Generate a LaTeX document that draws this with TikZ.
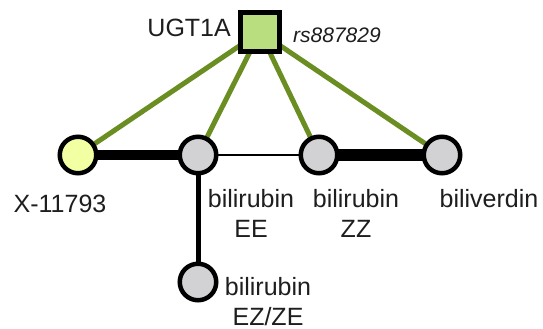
\documentclass[tikz,border=0pt]{standalone}
\usepackage{fontspec}
\setmainfont{Liberation Sans}
\usetikzlibrary{backgrounds}
\definecolor{edgegreen}{RGB}{107,142,35}
\definecolor{genefill}{RGB}{184,222,128}
\definecolor{metyellow}{RGB}{242,255,162}
\definecolor{metgray}{RGB}{210,210,213}
\definecolor{labelgray}{RGB}{30,30,30}
\tikzset{
  gene/.style={draw=black, line width=5pt, fill=genefill, rectangle, minimum size=39pt, inner sep=0pt},
  metab/.style={draw=black, line width=4.5pt, circle, minimum size=36.5pt, inner sep=0pt},
  lbl/.style={text=labelgray, font=\fontsize{25}{30}\selectfont, inner sep=0pt, anchor=base},
  snp/.style={text=labelgray, font=\fontsize{21}{25}\selectfont\itshape, inner sep=0pt, anchor=base west},
  assoc/.style={draw=edgegreen, line width=5pt},
  corr/.style={draw=black}
}
\begin{document}
\begin{tikzpicture}[x=1pt, y=-1pt]
\useasboundingbox (0,0) rectangle (543,329);

% gene and metabolites
\node[gene] (ugt) at (260,32) {};
\node[metab, fill=metyellow] (x11793) at (78,155) {};
\node[metab, fill=metgray] (ee) at (198,155) {};
\node[metab, fill=metgray] (zz) at (319,155) {};
\node[metab, fill=metgray] (bv) at (442,155) {};
\node[metab, fill=metgray] (ez) at (198,282) {};

% labels (a multi-line label sits on the baseline of its last line)
\node[lbl, anchor=base east] (ugtlbl) at (231,37) {UGT1A};
\node[snp] (snplbl) at (293,42) {rs887829};
\node[lbl] (xlbl) at (60,212) {X-11793};
\node[lbl, align=center] (eelbl) at (251,237) {bilirubin\\EE};
\node[lbl, align=center] (zzlbl) at (356,237) {bilirubin\\ZZ};
\node[lbl] (bvlbl) at (489,207) {biliverdin};
\node[lbl, align=center] (ezlbl) at (268,325) {bilirubin\\EZ/ZE};

% connectors, behind the nodes
\begin{pgfonlayer}{background}
\fill[white] (0,0) rectangle (543,329);
\draw[assoc] (ugt.center) -- (x11793.center);
\draw[assoc] (ugt.center) -- (ee.center);
\draw[assoc] (ugt.center) -- (zz.center);
\draw[assoc] (ugt.center) -- (bv.center);
\draw[corr, line width=10pt] (x11793.center) -- (ee.center);
\draw[corr, line width=2pt] (ee.center) -- (zz.center);
\draw[corr, line width=12pt] (zz.center) -- (bv.center);
\draw[corr, line width=5pt] (ee.center) -- (ez.center);
\end{pgfonlayer}
\end{tikzpicture}
\end{document}
